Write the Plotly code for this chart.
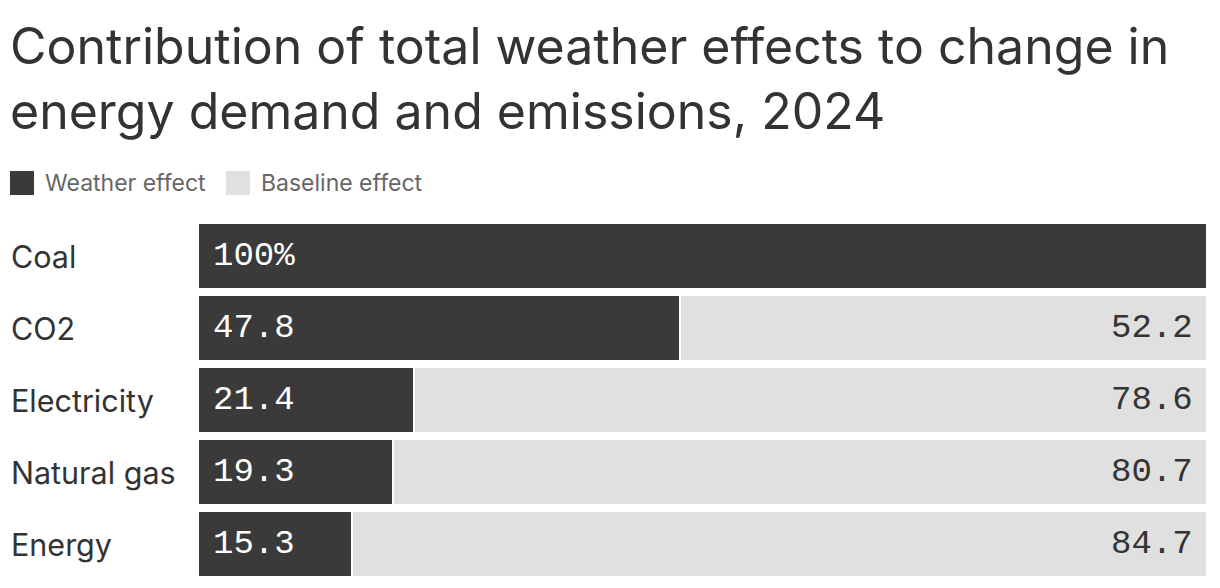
import plotly.graph_objects as go

categories = ["Coal", "CO2", "Electricity", "Natural gas", "Energy"]
weather = [100, 47.8, 21.4, 19.3, 15.3]
baseline = [0, 52.2, 78.6, 80.7, 84.7]
weather_labels = ["100%", "47.8", "21.4", "19.3", "15.3"]
baseline_labels = ["", "52.2", "78.6", "80.7", "84.7"]

DARK = "#3a3a3a"
LIGHT = "#dfe0df"
TEXT = "#333333"
# page body has an 8px margin, so the figure is a bit smaller than the window
W, H = 1212, 580
L, R, T, B = 190, 13, 212, 8
PW, PH = W - L - R, H - T - B


def px_x(px):
    return (px - L) / PW


def px_y(py):
    return (H - B - py) / PH


fig = go.Figure()
fig.add_trace(go.Bar(y=categories, x=weather, orientation="h", name="Weather effect",
                     marker=dict(color=DARK, line=dict(color="white", width=2))))
fig.add_trace(go.Bar(y=categories, x=baseline, orientation="h", name="Baseline effect",
                     marker=dict(color=LIGHT, line=dict(color="white", width=2))))

mono = dict(family="Liberation Mono", size=34)
for cat, lab in zip(categories, weather_labels):
    fig.add_annotation(x=0, y=cat, text=lab, showarrow=False, xanchor="left", xshift=13,
                       font=dict(color="white", **mono))
for cat, lab in zip(categories, baseline_labels):
    if lab:
        fig.add_annotation(x=100, y=cat, text=lab, showarrow=False, xanchor="right", xshift=-12,
                           font=dict(color=TEXT, **mono))

for cat in categories:
    fig.add_annotation(x=px_x(1), xref="paper", y=cat, text=cat, showarrow=False,
                       xanchor="left", font=dict(family="Inter", size=30.5, color=TEXT))

# legend drawn by hand so the swatches can be big squares
for x0, col, name in [(2, DARK, "Weather effect"), (218, LIGHT, "Baseline effect")]:
    fig.add_shape(type="rect", xref="paper", yref="paper", x0=px_x(x0), x1=px_x(x0 + 24),
                  y0=px_y(187), y1=px_y(163), fillcolor=col, line_width=0)
    fig.add_annotation(xref="paper", yref="paper", x=px_x(x0 + 33), y=px_y(175), text=name,
                       showarrow=False, xanchor="left", yanchor="middle",
                       font=dict(family="Inter", size=23, color="#666666"))

fig.update_layout(
    barmode="stack", bargap=0.085,
    width=W, height=H, margin=dict(l=L, r=R, t=T, b=B),
    paper_bgcolor="white", plot_bgcolor="white", showlegend=False,
    title=dict(text="Contribution of total weather effects to change in<br>energy demand and emissions, 2024",
               x=2 / W, xanchor="left", xref="container", y=1 - 56 / H, yanchor="top", yref="container",
               font=dict(family="Inter", size=50, color=TEXT)),
    xaxis=dict(range=[0, 100], visible=False, fixedrange=True),
    yaxis=dict(autorange="reversed", showticklabels=False, showgrid=False, zeroline=False),
)
fig.write_html("out.html")
